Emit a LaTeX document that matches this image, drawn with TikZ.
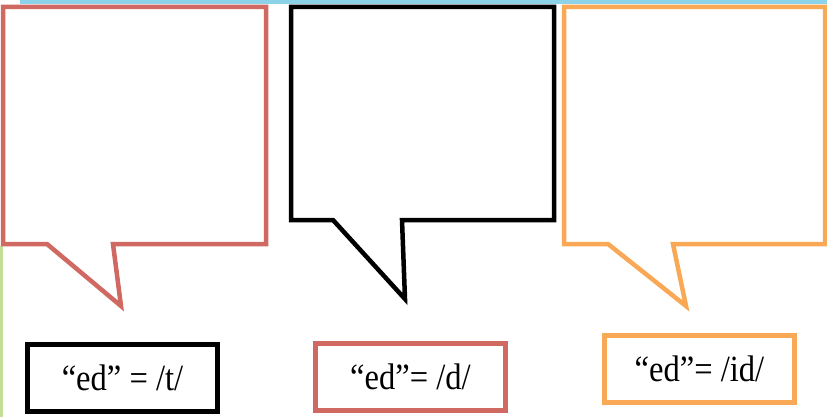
\documentclass[tikz,border=0pt]{standalone}
\usepackage{fontspec}
\setmainfont[FakeStretch=0.88]{Liberation Serif}
\usetikzlibrary{positioning}

\definecolor{bubblered}{RGB}{208,105,98}
\definecolor{bubbleorange}{RGB}{249,168,86}
\definecolor{edgeblue}{RGB}{140,210,232}
\definecolor{edgegreen}{RGB}{195,222,150}

\begin{document}
\begin{tikzpicture}[
    x=1pt, y=-1pt,
    bubble/.style={line width=4.5pt, fill=white, line join=miter},
    soundbox/.style={rectangle, draw, line width=5pt, fill=white, minimum width=190pt, minimum height=67pt, inner sep=0pt, font=\fontsize{37}{42}\selectfont}
]
\useasboundingbox (0,0) rectangle (827,417);

% Page edges
\fill[edgeblue] (20,0) rectangle (827,4);
\fill[edgegreen] (0,246) rectangle (3,417);

% Speech bubbles
\draw[bubble, draw=bubblered] (3,7) -- (266,7) -- (266,244) -- (113,244) -- (121,306) -- (47,244) -- (3,244) -- cycle;
\draw[bubble, draw=black] (291,7) -- (554,7) -- (554,220) -- (402,220) -- (405,299) -- (333,220) -- (291,220) -- cycle;
\draw[bubble, draw=bubbleorange] (564,7) -- (825,7) -- (825,244) -- (673,244) -- (686,306) -- (608,244) -- (564,244) -- cycle;

% Sound labels
\node (tsound) [soundbox, draw=black] at (122.5,377.5) {“ed” = /t/};
\node (dsound) [soundbox, draw=bubblered] at (410.5,377) {“ed”= /d/};
\node (idsound) [soundbox, draw=bubbleorange] at (699.5,369) {“ed”= /id/};

\end{tikzpicture}
\end{document}
